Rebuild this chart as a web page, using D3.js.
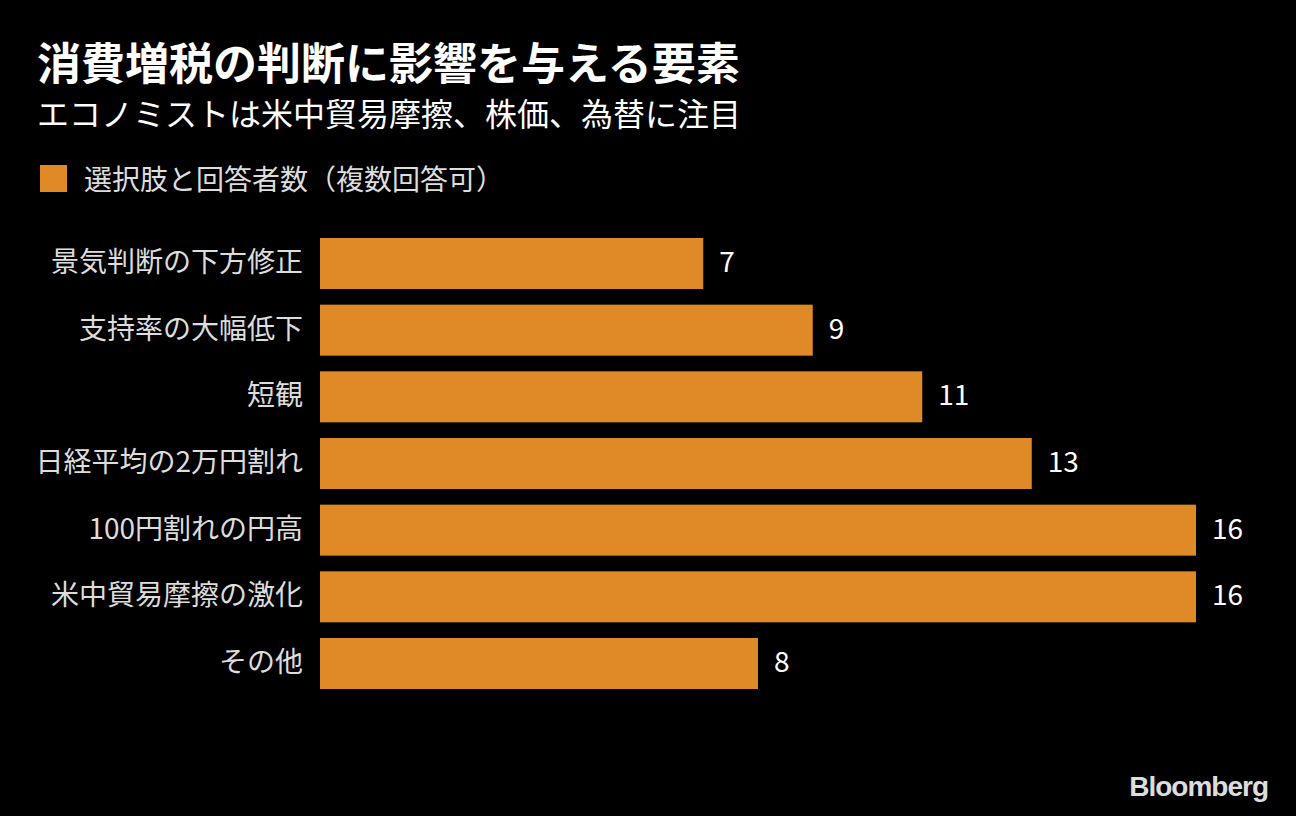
<!DOCTYPE html>
<html><head><meta charset="utf-8">
<script src="https://cdn.jsdelivr.net/npm/d3@7"></script>
<style>body{margin:0;background:#000;}</style>
</head><body>
<script>
const categories = ["景気判断の下方修正","支持率の大幅低下","短観","日経平均の2万円割れ","100円割れの円高","米中貿易摩擦の激化","その他"];
const values = [7,9,11,13,16,16,8];
const title = "消費増税の判断に影響を与える要素";
const subtitle = "エコノミストは米中貿易摩擦、株価、為替に注目";
const legendLabel = "選択肢と回答者数（複数回答可）";

const W=1296,H=816;
const font = "'Noto Sans CJK JP','Noto Sans',sans-serif";
const svg = d3.select("body").append("svg").attr("width",W).attr("height",H).style("background","#000");

svg.append("text").attr("x",37).attr("y",80).text(title)
  .attr("fill","#fff").attr("font-family",font).attr("font-weight",700).attr("font-size",44);
svg.append("text").attr("x",37).attr("y",126).text(subtitle)
  .attr("fill","#fff").attr("font-family",font).attr("font-size",32);
svg.append("rect").attr("x",40).attr("y",165).attr("width",27).attr("height",27).attr("fill","#DF8A26");
svg.append("text").attr("x",84).attr("y",190).text(legendLabel)
  .attr("fill","#ddd").attr("font-family",font).attr("font-size",28);

const x = d3.scaleLinear().domain([0,16]).range([320,1196]);
const y = d3.scaleBand().domain(categories).range([238,689]).paddingInner(0.235).paddingOuter(0);

svg.selectAll("rect.bar").data(values).join("rect").attr("class","bar")
  .attr("x",x(0)).attr("y",(d,i)=>y(categories[i]))
  .attr("width",d=>x(d)-x(0)).attr("height",y.bandwidth()).attr("fill","#DF8A26");

svg.selectAll("text.cat").data(categories).join("text").attr("class","cat")
  .attr("x",303).attr("y",d=>y(d)+y.bandwidth()/2).attr("dy","0.3em")
  .attr("text-anchor","end").text(d=>d)
  .attr("fill","#ddd").attr("font-family",font).attr("font-size",28);

svg.selectAll("text.val").data(values).join("text").attr("class","val")
  .attr("x",d=>x(d)+16).attr("y",(d,i)=>y(categories[i])+y.bandwidth()/2).attr("dy","0.3em")
  .text(d=>d)
  .attr("fill","#fff").attr("font-family",font).attr("font-size",28);

svg.append("text").attr("x",1268).attr("y",796).attr("text-anchor","end").text("Bloomberg")
  .attr("fill","#ddd").attr("font-family","'Liberation Sans',Arial,sans-serif").attr("font-weight",700)
  .attr("font-size",28).attr("letter-spacing",-1);
</script>
</body></html>
